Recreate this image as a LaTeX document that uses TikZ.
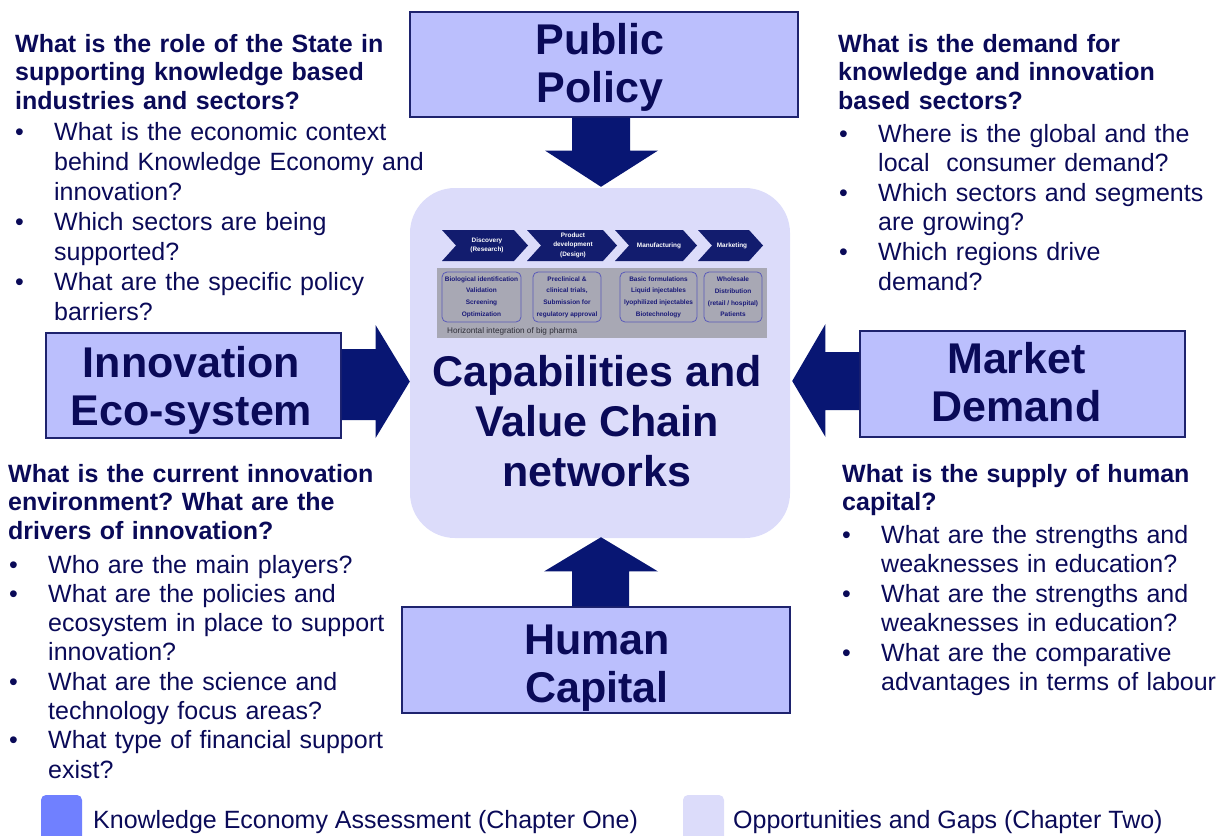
\documentclass[tikz,border=0pt]{standalone}
\usepackage{fontspec}
\usepackage{graphicx}
\setmainfont{Liberation Sans}
\usetikzlibrary{calc}
\frenchspacing
\definecolor{navy}{RGB}{10,10,88}
\definecolor{arrowc}{RGB}{8,22,115}
\definecolor{boxfill}{RGB}{187,191,253}
\definecolor{boxline}{RGB}{30,35,110}
\definecolor{centerfill}{RGB}{220,220,250}
\definecolor{chev}{RGB}{18,28,110}
\definecolor{panel}{RGB}{168,168,180}
\definecolor{inline}{RGB}{90,90,185}
\definecolor{intext}{RGB}{25,25,120}
\definecolor{legA}{RGB}{112,128,255}
\newcommand\bul{\makebox[39pt][l]{•}}
\newcommand\ind{\hspace*{39pt}}
\tikzset{
  hdr/.style={draw=boxline, line width=1.1pt, fill=boxfill, inner sep=0},
  htext/.style={text=navy, font=\fontsize{43}{48}\selectfont\bfseries, align=center, inner sep=0},
  cbox/.style={fill=centerfill, rounded corners=45pt, minimum width=380, minimum height=350, inner sep=0},
  ctext/.style={text=navy, font=\fontsize{43}{50}\selectfont\bfseries, align=center, inner sep=0},
  arr/.style={fill=arrowc},
  qb/.style={anchor=base west, text width=#1, align=left, inner sep=0, text=navy, font=\fontsize{25}{28.5}\selectfont\bfseries},
  ql/.style={anchor=base west, text width=#1, align=left, inner sep=0, text=navy},
  chevtext/.style={text=white, font=\fontsize{6.4}{9.5}\selectfont\bfseries, align=center, inner sep=0},
  inbox/.style={draw=inline, line width=0.8pt, rounded corners=5pt, inner sep=0, minimum height=50, text=intext, font=\fontsize{6.5}{11.6}\selectfont\bfseries, align=center},
  legbox/.style={rounded corners=5pt, minimum width=41, minimum height=50, inner sep=0},
  legtext/.style={anchor=base west, inner sep=0, text=navy, font=\fontsize{25}{30}\selectfont},
}
\begin{document}
\begin{tikzpicture}[x=1pt,y=-1pt]
\useasboundingbox (0,0) rectangle (1222,835);

% central box
\node[cbox] (vc) at (600,363) {};
\node[ctext] (vct) at (597,421.5) {Capabilities and\\Value Chain\\networks};

% value chain graphic
\fill[panel] (437,268) rectangle (767,338);
\foreach \L/\R in {442/528, 527/617, 615/697, 698/763}{
  \fill[chev] (\L,230) -- (\R-14,230) -- (\R,245.5) -- (\R-14,261) -- (\L,261) -- (\L+14,245.5) -- cycle;
}
\node[chevtext] (c1) at (487,245.5) {Discovery\\(Research)};
\node[chevtext] (c2) at (573,245) {Product\\development\\(Design)};
\node[chevtext] (c3) at (659,245.5) {Manufacturing};
\node[chevtext] (c4) at (732,245.5) {Marketing};
\node[inbox, minimum width=79] (b1) at (481.5,297) {Biological identification\\Validation\\Screening\\Optimization};
\node[inbox, minimum width=68] (b2) at (567,297) {Preclinical \&\\clinical trials,\\Submission for\\regulatory approval};
\node[inbox, minimum width=77] (b3) at (658.5,297) {Basic formulations\\Liquid injectables\\lyophilized injectables\\Biotechnology};
\node[inbox, minimum width=58] (b4) at (733,297) {Wholesale\\Distribution\\(retail / hospital)\\Patients};
\node[anchor=west, inner sep=0, text={rgb,255:red,45;green,45;blue,55}, font=\fontsize{8.2}{9}\selectfont] (hz) at (447,331) {Horizontal integration of big pharma};

% header boxes
\node[hdr, minimum width=388, minimum height=105,
  label={[htext, xshift=-4pt, yshift=-2.5pt]center:Public\\Policy}] (pp) at (604,64.5) {};
\node[hdr, minimum width=295, minimum height=105,
  label={[htext, xshift=-2pt, yshift=-5pt]center:Innovation\\Eco-system}] (ie) at (193.5,385.5) {};
\node[hdr, minimum width=325, minimum height=106,
  label={[htext, xshift=-6pt, yshift=2pt]center:Market\\Demand}] (md) at (1022.5,384) {};
\node[hdr, minimum width=388, minimum height=106,
  label={[htext, xshift=1pt, yshift=-8pt]center:Human\\Capital}] (hc) at (596,660) {};

% block arrows
\fill[arr] ($(pp.south)+(-32,0)$) -- ($(pp.south)+(26,0)$) -- ($(pp.south)+(26,33)$) -- ($(pp.south)+(54,33)$)
  -- ($(vc.north)+(1,-1)$) -- ($(pp.south)+(-59,33)$) -- ($(pp.south)+(-32,33)$) -- cycle;
\fill[arr] ($(ie.east)+(0,-36.5)$) -- ($(ie.east)+(34,-36.5)$) -- ($(ie.east)+(34,-60.5)$)
  -- ($(vc.west)+(0,18.5)$) -- ($(ie.east)+(34,52.5)$) -- ($(ie.east)+(34,34.5)$) -- ($(ie.east)+(0,34.5)$) -- cycle;
\fill[arr] ($(md.west)+(0,-32)$) -- ($(md.west)+(-34,-32)$) -- ($(md.west)+(-34,-60)$)
  -- ($(vc.east)+(2,18)$) -- ($(md.west)+(-34,53)$) -- ($(md.west)+(-34,26)$) -- ($(md.west)+(0,26)$) -- cycle;
\fill[arr] ($(hc.north)+(-24,0)$) -- ($(hc.north)+(33,0)$) -- ($(hc.north)+(33,-35)$) -- ($(hc.north)+(62,-35)$)
  -- ($(vc.south)+(1,-1)$) -- ($(hc.north)+(-52,-35)$) -- ($(hc.north)+(-24,-35)$) -- cycle;

% question blocks
\node[qb=420pt] (q1) at (15,52) {What is the role of the State in\\supporting knowledge based\\industries and sectors?};
\node[ql=420pt, font=\fontsize{25}{30}\selectfont] (l1) at (15,140) {\bul What is the economic context\\\ind behind Knowledge Economy and\\\ind innovation?\\\bul Which sectors are being\\\ind supported?\\\bul What are the specific policy\\\ind barriers?};

\node[qb=380pt] (q2) at (838,52) {What is the demand for\\knowledge and innovation\\based sectors?};
\node[ql=380pt, font=\fontsize{25}{29.6}\selectfont] (l2) at (839,142) {\bul Where is the global and the\\\ind local~ consumer demand?\\\bul Which sectors and segments\\\ind are growing?\\\bul Which regions drive\\\ind demand?};

\node[qb=400pt] (q3) at (8,482) {What is the current innovation\\environment? What are the\\drivers of innovation?};
\node[ql=400pt, font=\fontsize{25}{29.3}\selectfont] (l3) at (9,573) {\bul Who are the main players?\\\bul What are the policies and\\\ind ecosystem in place to support\\\ind innovation?\\\bul What are the science and\\\ind technology focus areas?\\\bul What type of financial support\\\ind exist?};

\node[qb=380pt] (q4) at (842,482) {What is the supply of human\\capital?};
\node[ql=379pt, font=\fontsize{25}{29.5}\selectfont] (l4) at (842,543) {\bul What are the strengths and\\\ind weaknesses in education?\\\bul What are the strengths and\\\ind weaknesses in education?\\\bul What are the comparative\\\ind advantages in terms of labour};

% legend
\node[legbox, fill=legA] (lg1) at (61.5,820) {};
\node[legtext] (lt1) at (93,828) {Knowledge Economy Assessment (Chapter One)};
\node[legbox, fill=centerfill] (lg2) at (703.5,820) {};
\node[legtext] (lt2) at (733,828) {Opportunities and Gaps (Chapter Two)};
\end{tikzpicture}
\end{document}
